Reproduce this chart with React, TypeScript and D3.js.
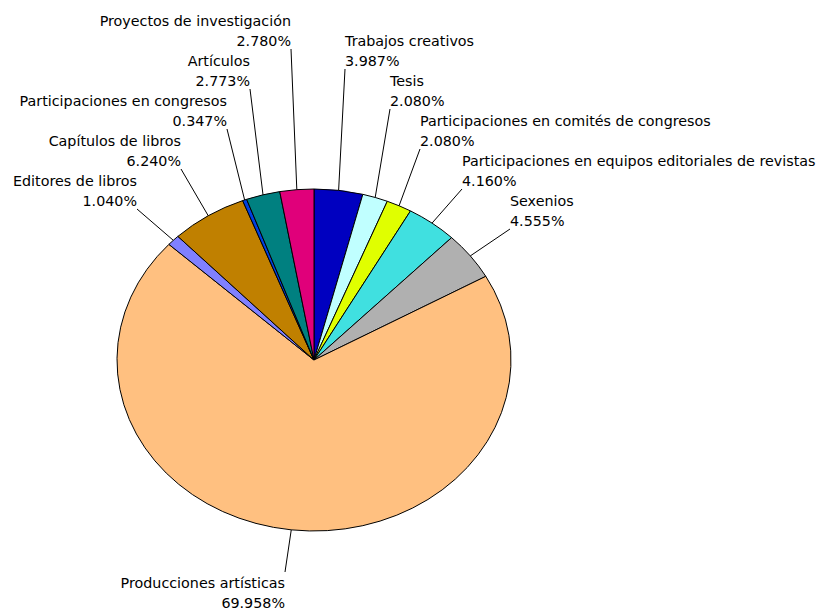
import React from "react";
import * as d3 from "d3";

// slices, clockwise from 12 o'clock
const categories = [
  "Trabajos creativos",
  "Tesis",
  "Participaciones en comités de congresos",
  "Participaciones en equipos editoriales de revistas",
  "Sexenios",
  "Producciones artísticas",
  "Editores de libros",
  "Capítulos de libros",
  "Participaciones en congresos",
  "Artículos",
  "Proyectos de investigación",
];
const values = [3.987, 2.08, 2.08, 4.16, 4.555, 69.958, 1.04, 6.24, 0.347, 2.773, 2.78];
const colors = [
  "#0000c0", "#c0ffff", "#e0ff00", "#40e0e0", "#b0b0b0", "#ffc080",
  "#8080ff", "#c08000", "#0040e0", "#008080", "#e0007a",
];

// label placement: x of text edge, baseline of first line, side
const labelLayout: { x: number; y: number; side: "left" | "right" | "below" }[] = [
  { x: 345, y: 46, side: "right" },
  { x: 390, y: 86, side: "right" },
  { x: 420, y: 126, side: "right" },
  { x: 462, y: 166, side: "right" },
  { x: 510, y: 206, side: "right" },
  { x: 285, y: 588, side: "below" },
  { x: 137, y: 186, side: "left" },
  { x: 181, y: 146, side: "left" },
  { x: 227, y: 106, side: "left" },
  { x: 250, y: 66, side: "left" },
  { x: 291, y: 26, side: "left" },
];

const W = 826;
const H = 609;
const cx = 314;
const cy = 360;
const rx = 197;
const ry = 171;

export default function App() {
  const pie = d3
    .pie<number>()
    .sort(null)
    .value((d) => d)
    .startAngle(0)
    .endAngle(2 * Math.PI);
  const arcs = pie(values);
  const arc = d3.arc<d3.PieArcDatum<number>>().innerRadius(0).outerRadius(rx);

  return (
    <svg
      width={W}
      height={H}
      style={{ position: "absolute", left: 0, top: 0, background: "#fff" }}
      fontFamily="'DejaVu Sans', Verdana, sans-serif"
      fontSize={14.3}
    >
      <g transform={`translate(${cx},${cy}) scale(1,${ry / rx})`}>
        {arcs.map((a, i) => (
          <path
            key={i}
            d={arc(a) || ""}
            fill={colors[i]}
            stroke="#000"
            strokeWidth={1}
            vectorEffect="non-scaling-stroke"
          />
        ))}
      </g>
      {arcs.map((a, i) => {
        const mid = (a.startAngle + a.endAngle) / 2;
        const sx = cx + rx * Math.sin(mid);
        const sy = cy - ry * Math.cos(mid);
        const L = labelLayout[i];
        const ey = L.side === "below" ? L.y - 16 : L.y + 23;
        const anchor = L.side === "right" ? "start" : "end";
        return (
          <g key={i}>
            <line x1={sx} y1={sy} x2={L.x} y2={ey} stroke="#000" strokeWidth={1} />
            <text x={L.x} y={L.y} textAnchor={anchor} fill="#000">
              {categories[i]}
            </text>
            <text x={L.x} y={L.y + 19.5} textAnchor={anchor} fill="#000">
              {values[i].toFixed(3) + "%"}
            </text>
          </g>
        );
      })}
    </svg>
  );
}
